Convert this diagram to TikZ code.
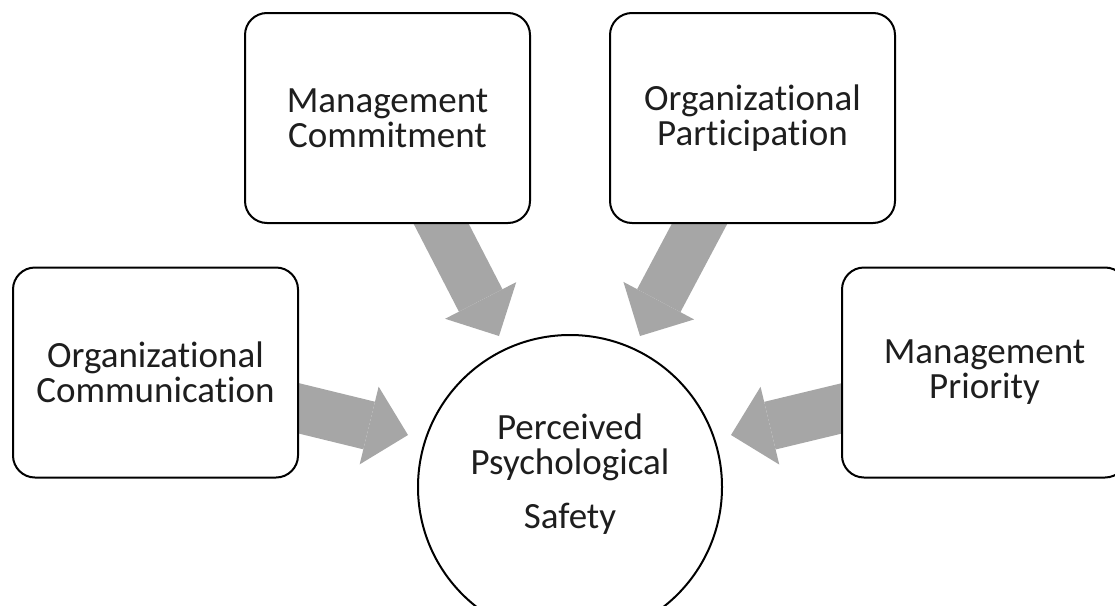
\documentclass[tikz,border=0pt]{standalone}
\usepackage{fontspec}
\setmainfont{Carlito}[Ligatures={NoCommon}]
\usepackage{tikz}
\usetikzlibrary{arrows.meta}
\usetikzlibrary{positioning, calc, backgrounds}
\definecolor{arrowgray}{RGB}{166,166,166}
\definecolor{textdark}{RGB}{30,30,30}

\begin{document}
\begin{tikzpicture}[
  x=1pt, y=-1pt,
  factor/.style={rectangle,rounded corners=22pt,draw,line width=2pt,fill=white,
    minimum width=285pt,minimum height=210pt,inner sep=2pt,
    align=center,text=textdark,font=\fontsize{37pt}{35pt}\selectfont},
  outcome/.style={circle,draw,line width=2pt,fill=white,minimum size=304pt,inner sep=0pt},
  outcometext/.style={align=center,text=textdark,font=\fontsize{37pt}{35pt}\selectfont},
  blockarrow/.style={draw=arrowgray,line width=49pt,
    -{Triangle[length=40pt,width=80pt,line width=0pt]}}
]
\useasboundingbox (0,0) rectangle (1115,605);
\clip (0,0) rectangle (1115,605);

% --- Nodes ---
\node[outcome] (ps) at (570,487) {};
\node[outcometext] (pstext) at ($(ps.center)+(0,-13)$) {Perceived\\Psychological\\[19pt]Safety};
\node[factor] (mc) at (387.5,118) {Management\\Commitment};
\node[factor,right=78pt of mc] (op) {Organizational\\Participation};
\node[factor] (oc) at (155.5,372.5) {Organizational\\Communication};
\node[factor,right=542pt of oc] (mp) {Management\\Priority};

% --- Block arrows ---
\begin{scope}[on background layer]
  \draw[blockarrow] ($(mc.south)+(44.5,-18)$) -- ($(ps.center)+(-71,-151)$);
  \draw[blockarrow] ($(op.south)+(-43.5,-18)$) -- ($(ps.center)+(70,-151)$);
  \draw[blockarrow] ($(oc.east)+(-20,31)$) -- ($(ps.center)+(-162,-52)$);
  \draw[blockarrow] ($(mp.west)+(21,31)$) -- ($(ps.center)+(161,-52)$);
\end{scope}

\end{tikzpicture}
\end{document}
